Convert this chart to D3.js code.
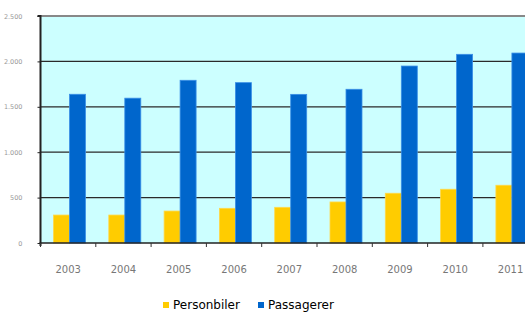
<!DOCTYPE html>
<html><head><meta charset="utf-8">
<script src="https://cdn.jsdelivr.net/npm/d3@7"></script>
<style>body{margin:0;background:#fff}svg{display:block}</style>
</head><body>
<svg id="c" width="525" height="312"></svg>
<script>
const years = ["2003","2004","2005","2006","2007","2008","2009","2010","2011"];
const personbiler = [308, 308, 352, 382, 393, 452, 548, 592, 636];
const passagerer = [1638, 1595, 1792, 1766, 1637, 1693, 1949, 2078, 2092];
const seriesNames = ["Personbiler", "Passagerer"];
const seriesColors = ["#FFCC00", "#0066CC"];
const yTicks = [0, 500, 1000, 1500, 2000, 2500];
const yTickLabels = ["0", "500", "1.000", "1.500", "2.000", "2.500"];

(function () {
const svg = d3.select("#c");
const pLeft = 40.5, pTop = 16, pBottom = 243, step = 55.3;
const pRight = pLeft + step * years.length;

const x0 = d3.scaleBand().domain(years).range([pLeft, pRight]).padding(0);
const x1 = d3.scaleBand().domain(seriesNames).range([13, 45]).padding(0);
const y = d3.scaleLinear().domain([0, 2500]).range([pBottom, pTop]);

// plot background
svg.append("rect").attr("x", pLeft).attr("y", pTop).attr("width", pRight - pLeft).attr("height", pBottom - pTop).attr("fill", "#CCFFFF");

// gridlines
svg.append("g").selectAll("line").data(yTicks.filter(d => d > 0 && d < 2500)).join("line")
  .attr("x1", pLeft).attr("x2", pRight).attr("y1", d => y(d)).attr("y2", d => y(d))
  .attr("stroke", "#2a2a2a").attr("stroke-width", 1.3);

// top border
svg.append("line").attr("x1", pLeft).attr("x2", pRight).attr("y1", y(2500)).attr("y2", y(2500))
  .attr("stroke", "#888").attr("stroke-width", 2);

// bars
const data = years.map((yr, i) => ({year: yr, vals: [personbiler[i], passagerer[i]]}));
const g = svg.append("g").selectAll("g").data(data).join("g").attr("transform", d => `translate(${x0(d.year)},0)`);
g.selectAll("rect").data(d => d.vals.map((v, j) => ({s: seriesNames[j], v, c: seriesColors[j]}))).join("rect")
  .attr("x", d => x1(d.s)).attr("width", x1.bandwidth())
  .attr("y", d => y(d.v)).attr("height", d => y(0) - y(d.v))
  .attr("fill", d => d.c)
  .attr("stroke", d => d.s === "Passagerer" ? "#3b8fe6" : "#ffd84a").attr("stroke-width", 0.8);

// y axis
const yAxis = d3.axisLeft(y).tickValues(yTicks).tickSize(3).tickFormat((d, i) => yTickLabels[i]);
const ya = svg.append("g").attr("transform", `translate(${pLeft},0)`).call(yAxis);
ya.select(".domain").attr("stroke", "#222").attr("stroke-width", 2).attr("d", `M-3,${pTop}H0V${pBottom + 3}`);
ya.selectAll(".tick line").attr("stroke", "#222");
ya.selectAll(".tick text").attr("x", -18).attr("fill", "#999").attr("font-size", "6.5px").attr("font-family", "DejaVu Sans");

// x axis
const xa = svg.append("g").attr("transform", `translate(0,${pBottom})`);
xa.append("line").attr("x1", pLeft - 1).attr("x2", pRight).attr("y1", 0).attr("y2", 0).attr("stroke", "#222").attr("stroke-width", 1.5);
xa.selectAll("line.t").data(years.concat(["end"])).join("line").attr("class", "t")
  .attr("x1", (d, i) => pLeft + i * step).attr("x2", (d, i) => pLeft + i * step)
  .attr("y1", 0).attr("y2", 4).attr("stroke", "#333").attr("stroke-width", 1);
xa.selectAll("text").data(years).join("text")
  .attr("x", d => x0(d) + x0.bandwidth() / 2).attr("y", 30)
  .attr("text-anchor", "middle").attr("fill", "#777").attr("font-size", "10px").attr("font-family", "DejaVu Sans")
  .text(d => d);

// legend
const leg = svg.append("g");
const legX = [163, 258];
seriesNames.forEach((s, i) => {
  leg.append("rect").attr("x", legX[i]).attr("y", 302).attr("width", 6).attr("height", 6).attr("fill", seriesColors[i]);
  leg.append("text").attr("x", legX[i] + 10).attr("y", 308.5).attr("font-size", "12px").attr("font-family", "DejaVu Sans").attr("fill", "#000").text(s);
});
})();
</script>
</body></html>
